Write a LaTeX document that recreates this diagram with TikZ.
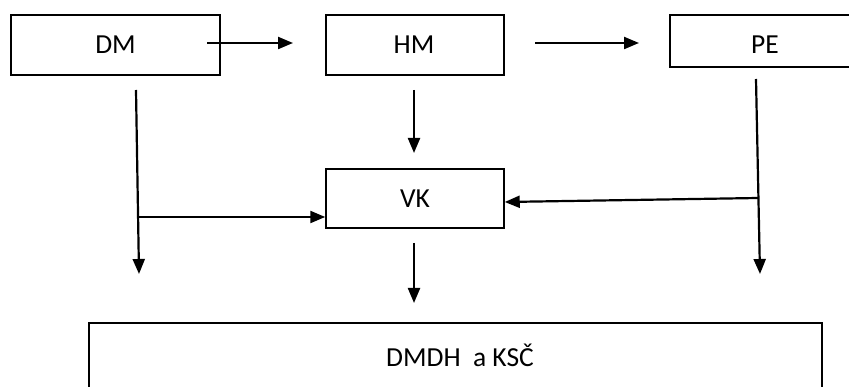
\documentclass[tikz,border=0pt]{standalone}
\usepackage{fontspec}
\setmainfont{Carlito}
\usetikzlibrary{arrows.meta}
\begin{document}
\begin{tikzpicture}[x=1pt,y=-1pt,
  box/.style={draw, line width=1.5pt, inner sep=0pt},
  lbl/.style={inner sep=0pt, font=\fontsize{27.5}{32}\selectfont},
  arr/.style={line width=2.2pt, -{Triangle[length=15pt,width=12pt]}},
  ln/.style={line width=2.2pt}]
\useasboundingbox (0,0) rectangle (849,387);
% boxes
\node[box, minimum width=209pt, minimum height=60pt] (dm) at (115.5,45) {};
\node[lbl] (dmt) at (115.5,45) {DM};
\node[box, minimum width=178pt, minimum height=60pt] (hm) at (415,45) {};
\node[lbl] (hmt) at (414,45) {HM};
\node[box, minimum width=200pt, minimum height=52pt] (pe) at (770,41) {};
\node[lbl] (pet) at (765,45) {PE};
\node[box, minimum width=178pt, minimum height=59pt] (vk) at (415,198.5) {};
\node[lbl] (vkt) at (415,199) {VK};
\node[box, minimum width=733pt, minimum height=77pt] (out) at (455.5,361.5) {};
\node[lbl] (outt) at (460,355) {DMDH\ \ a KSČ};
% connector end points
\coordinate (a1) at (207,43);
\coordinate (a2) at (293,43);
\coordinate (b1) at (535,43);
\coordinate (b2) at (639,43);
\coordinate (l1) at (136,90);
\coordinate (l2) at (139,274);
\coordinate (lb) at (138,217);
\coordinate (h1) at (414,90);
\coordinate (h2) at (414,153);
\coordinate (r1) at (756,79);
\coordinate (r2) at (760,274);
\coordinate (rb) at (758,198);
\coordinate (v1) at (414,243);
\coordinate (v2) at (414,303);
% connectors
\draw[arr] (a1) -- (a2);
\draw[arr] (b1) -- (b2);
\draw[arr] (l1) -- (l2);
\draw[arr] (lb) -- (vk.west |- lb);
\draw[arr] (h1) -- (h2);
\draw[arr] (r1) -- (r2);
\draw[arr] (rb) -- ([yshift=-3.5pt]vk.east);
\draw[arr] (v1) -- (v2);
\end{tikzpicture}
\end{document}
